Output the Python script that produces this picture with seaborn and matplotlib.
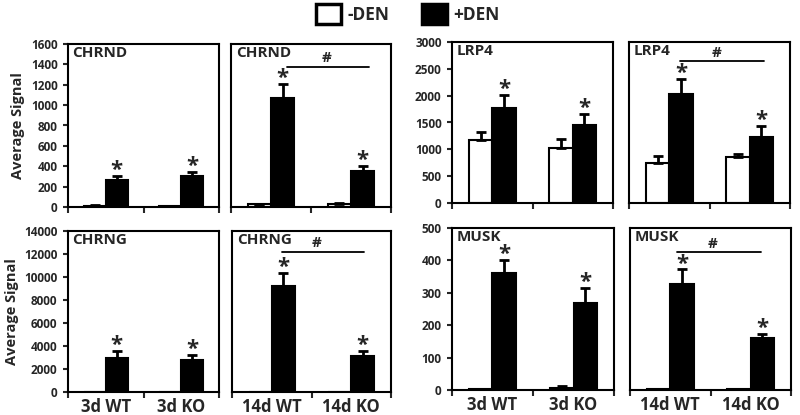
import matplotlib
matplotlib.use("Agg")
import matplotlib.pyplot as plt
from matplotlib.patches import Patch
import seaborn as sns
import numpy as np
import pandas as pd

# ── data ──────────────────────────────────────────────────────────────
groups_3d = ["3d WT", "3d KO"]
groups_14d = ["14d WT", "14d KO"]
treatments = ["-DEN", "+DEN"]

chrnd_3d_neg, chrnd_3d_neg_err = [14, 8], [2, 2]
chrnd_3d_pos, chrnd_3d_pos_err = [265, 300], [38, 40]
chrnd_14d_neg, chrnd_14d_neg_err = [25, 25], [8, 10]
chrnd_14d_pos, chrnd_14d_pos_err = [1068, 355], [135, 50]

lrp4_3d_neg, lrp4_3d_neg_err = [1165, 1025], [150, 168]
lrp4_3d_pos, lrp4_3d_pos_err = [1765, 1455], [255, 210]
lrp4_14d_neg, lrp4_14d_neg_err = [752, 851], [118, 62]
lrp4_14d_pos, lrp4_14d_pos_err = [2037, 1224], [280, 205]

chrng_3d_neg, chrng_3d_neg_err = [10, 10], [0, 0]
chrng_3d_pos, chrng_3d_pos_err = [2950, 2800], [640, 380]
chrng_14d_neg, chrng_14d_neg_err = [10, 10], [0, 0]
chrng_14d_pos, chrng_14d_pos_err = [9260, 3100], [1070, 430]

musk_3d_neg, musk_3d_neg_err = [3, 5], [1, 7]
musk_3d_pos, musk_3d_pos_err = [361, 267], [39, 49]
musk_14d_neg, musk_14d_neg_err = [2, 3], [1, 1]
musk_14d_pos, musk_14d_pos_err = [326, 159], [46, 13]

sns.set_style("ticks")
plt.rcParams["font.family"] = ["Open Sans", "DejaVu Sans"]
plt.rcParams["font.weight"] = "bold"
plt.rcParams["axes.linewidth"] = 1.5


def draw_panel(ax, gene, groups, neg, neg_err, pos, pos_err, ymax, ystep,
               left_col, bottom_row, hash_line=None):
    df = pd.DataFrame({
        "group": groups * 2,
        "treatment": [treatments[0]] * 2 + [treatments[1]] * 2,
        "signal": neg + pos,
    })
    sns.barplot(data=df, x="group", y="signal", hue="treatment",
                hue_order=treatments, order=groups,
                palette={"-DEN": "white", "+DEN": "black"},
                edgecolor="black", linewidth=1.5, width=0.58,
                errorbar=None, legend=False, ax=ax, zorder=2)
    for cont, errs in zip(ax.containers, [neg_err, pos_err]):
        xs = [p.get_x() + p.get_width() / 2 for p in cont]
        hs = [p.get_height() for p in cont]
        ax.errorbar(xs, hs, yerr=[np.zeros(len(errs)), errs], fmt="none",
                    ecolor="black", elinewidth=2, capsize=3.5, capthick=2,
                    zorder=3)
    # stars above every +DEN bar
    for p, e in zip(ax.containers[1], pos_err):
        ax.annotate("*", (p.get_x() + p.get_width() / 2, p.get_height() + e),
                    xytext=(0, 0), textcoords="offset points",
                    ha="center", va="baseline", fontsize=16,
                    fontweight="bold")
    ax.text(0.03, 0.985, gene, transform=ax.transAxes, ha="left", va="top",
            fontsize=11, fontweight="bold")
    if hash_line is not None:
        x0, x1, yl, xh = hash_line
        ax.plot([x0, x1], [yl, yl], color="black", lw=1.3,
                transform=ax.get_xaxis_transform(), clip_on=False)
        ax.text(xh, yl + 0.01, "#", transform=ax.get_xaxis_transform(),
                ha="center", va="bottom", fontsize=11, fontweight="bold")

    ax.set_xlim(-0.5, 1.5)
    ax.set_ylim(0, ymax)
    ax.set_xticks([-0.5, 0.5, 1.5])
    ax.set_xticklabels([])
    ax.set_xticks([0, 1], minor=True)
    ax.set_xticklabels(groups if bottom_row else ["", ""], minor=True,
                       fontsize=12, fontweight="bold")
    ax.tick_params(axis="x", which="major", direction="out", length=4.5,
                   width=1.5)
    ax.tick_params(axis="x", which="minor", length=0, pad=4)
    ax.set_xlabel("")
    ax.set_yticks(np.arange(0, ymax + 1, ystep))
    if left_col:
        ax.tick_params(axis="y", direction="out", length=3.5, width=1.5,
                       pad=4, labelsize=8.5)
        for t in ax.get_yticklabels():
            t.set_fontweight("bold")
    else:
        ax.tick_params(axis="y", left=False, labelleft=False)
    ax.set_ylabel("")
    for s in ax.spines.values():
        s.set_visible(True)
        s.set_color("black")
        s.set_linewidth(1.5)


fig = plt.figure(figsize=(8, 4.15), dpi=100)
W, H = 800.0, 415.0


def add_ax(l, r, t, b):
    return fig.add_axes([l / W, 1 - b / H, (r - l) / W, (b - t) / H])


ax1 = add_ax(68, 219, 44, 207)
ax2 = add_ax(231, 391, 44, 207)
ax3 = add_ax(452, 613, 42, 203)
ax4 = add_ax(629, 790, 42, 203)
ax5 = add_ax(68, 219, 231, 392)
ax6 = add_ax(232, 391, 231, 392)
ax7 = add_ax(452, 614, 228, 390)
ax8 = add_ax(630, 791, 228, 390)

draw_panel(ax1, "CHRND", groups_3d, chrnd_3d_neg, chrnd_3d_neg_err,
           chrnd_3d_pos, chrnd_3d_pos_err, 1600, 200, True, False)
draw_panel(ax2, "CHRND", groups_14d, chrnd_14d_neg, chrnd_14d_neg_err,
           chrnd_14d_pos, chrnd_14d_pos_err, 1600, 200, False, False,
           hash_line=(0.2, 1.22, 0.86, 0.70))
draw_panel(ax3, "LRP4", groups_3d, lrp4_3d_neg, lrp4_3d_neg_err,
           lrp4_3d_pos, lrp4_3d_pos_err, 3000, 500, True, False)
draw_panel(ax4, "LRP4", groups_14d, lrp4_14d_neg, lrp4_14d_neg_err,
           lrp4_14d_pos, lrp4_14d_pos_err, 3000, 500, False, False,
           hash_line=(0.13, 1.18, 0.88, 0.59))
draw_panel(ax5, "CHRNG", groups_3d, chrng_3d_neg, chrng_3d_neg_err,
           chrng_3d_pos, chrng_3d_pos_err, 14000, 2000, True, True)
draw_panel(ax6, "CHRNG", groups_14d, chrng_14d_neg, chrng_14d_neg_err,
           chrng_14d_pos, chrng_14d_pos_err, 14000, 2000, False, True,
           hash_line=(0.125, 1.16, 0.87, 0.56))
draw_panel(ax7, "MUSK", groups_3d, musk_3d_neg, musk_3d_neg_err,
           musk_3d_pos, musk_3d_pos_err, 500, 100, True, True)
draw_panel(ax8, "MUSK", groups_14d, musk_14d_neg, musk_14d_neg_err,
           musk_14d_pos, musk_14d_pos_err, 500, 100, False, True,
           hash_line=(0.08, 1.13, 0.85, 0.53))

for ax in (ax1, ax5):
    ax.set_ylabel("Average Signal", fontsize=10.5, fontweight="bold",
                  labelpad=4)

handles = [Patch(facecolor="white", edgecolor="black", linewidth=2.5,
                 label="-DEN"),
           Patch(facecolor="black", edgecolor="black", linewidth=2.5,
                 label="+DEN")]
fig.legend(handles=handles, ncol=2, loc="center",
           bbox_to_anchor=(0.51, 0.966), frameon=False,
           prop={"size": 12.5, "weight": "bold"},
           handlelength=1.45, handleheight=1.45, handletextpad=0.35,
           columnspacing=1.9, borderpad=0.1)

fig.savefig("out.png", dpi=100)
plt.close("all")
